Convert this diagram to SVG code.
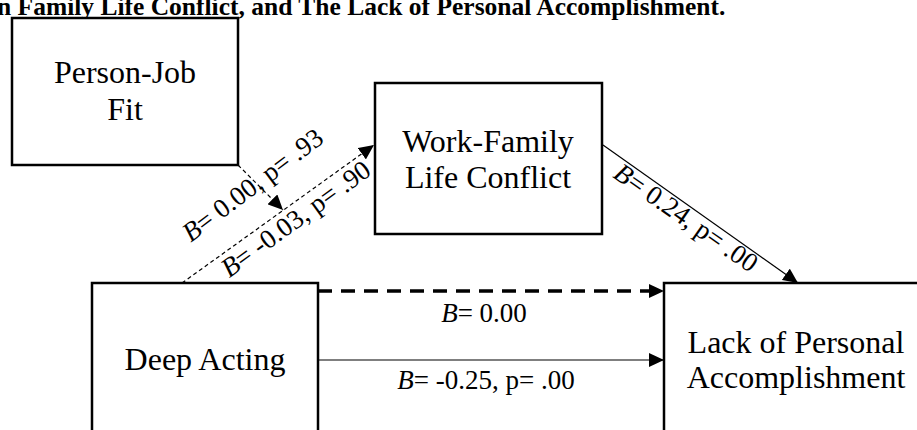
<svg xmlns="http://www.w3.org/2000/svg" width="917" height="430" viewBox="0 0 917 430">
<style>
.box{fill:#fff;stroke:#000;stroke-width:2.5}
.nt{font-family:"Liberation Serif","Times New Roman",serif;font-size:32px;fill:#000;text-anchor:middle}
.lb{font-family:"Liberation Serif","Times New Roman",serif;font-size:27px;fill:#000;text-anchor:middle}
.title{font-family:"Liberation Serif","Times New Roman",serif;font-size:25.5px;font-weight:bold;fill:#000}
.thin{fill:none;stroke:#000;stroke-width:1.2}
.dash{fill:none;stroke:#000;stroke-width:1.2;stroke-dasharray:4,3}
.thick{fill:none;stroke:#000;stroke-width:3.5;stroke-dasharray:14,9}
</style>
<defs>
<marker id="ah" markerUnits="userSpaceOnUse" markerWidth="15" markerHeight="14" refX="15" refY="7" orient="auto">
<path d="M0,0 L15,7 L0,14 Z" fill="#000"/>
</marker>
</defs>
<rect width="917" height="430" fill="#fff"/>
<text class="title" x="-3" y="15">n Family Life Conflict, and The Lack of Personal Accomplishment.</text>
<g id="connectors">
<path class="dash" d="M238,165 L283,210" marker-end="url(#ah)"/>
<path class="dash" d="M182,283 L374,145" marker-end="url(#ah)"/>
<path class="thin" d="M603,145 L798,283" marker-end="url(#ah)"/>
<path class="thick" d="M318,291 L664,291" marker-end="url(#ah)"/>
<path class="thin" d="M318,360 L664,360" marker-end="url(#ah)"/>
</g>
<g id="labels">
<text class="lb" transform="translate(258,192) rotate(-37)"><tspan font-style="italic">B</tspan>= 0.00, p= .93</text>
<text class="lb" transform="translate(301,226) rotate(-36)"><tspan font-style="italic">B</tspan>= -0.03, p= .90</text>
<text class="lb" transform="translate(681,225) rotate(35)"><tspan font-style="italic">B</tspan>= 0.24, p= .00</text>
<text class="lb" x="484" y="322"><tspan font-style="italic">B</tspan>= 0.00</text>
<text class="lb" x="486" y="389"><tspan font-style="italic">B</tspan>= -0.25, p= .00</text>
</g>
<g id="person-job-fit">
<rect class="box" x="12" y="18" width="226" height="147"/>
<text class="nt" x="125" y="83">Person-Job</text>
<text class="nt" x="125" y="120">Fit</text>
</g>
<g id="work-family">
<rect class="box" x="375" y="83" width="227" height="151"/>
<text class="nt" x="488" y="152">Work-Family</text>
<text class="nt" x="488" y="188">Life Conflict</text>
</g>
<g id="deep-acting">
<rect class="box" x="92" y="283" width="226" height="160"/>
<text class="nt" x="205" y="370">Deep Acting</text>
</g>
<g id="lack-pa">
<rect class="box" x="664" y="283" width="270" height="160"/>
<text class="nt" x="796" y="353">Lack of Personal</text>
<text class="nt" x="796" y="388">Accomplishment</text>
</g>
</svg>
